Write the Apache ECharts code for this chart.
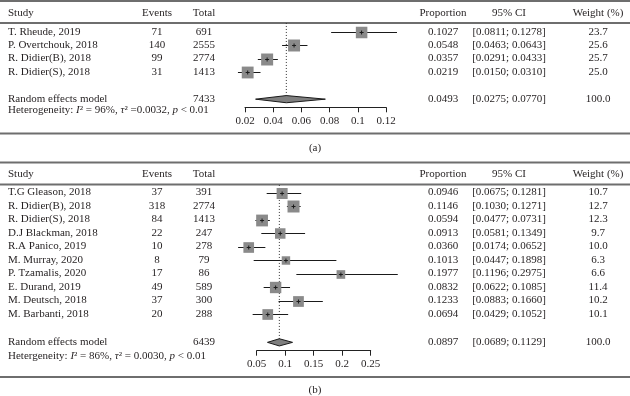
<!DOCTYPE html>
<html lang="en" style="height: 100%">
<head>
<meta charset="utf-8">
<title>Forest plots</title>
</head>
<body style="height: 100%; margin: 0; background: #fff">
<div id="container" style="width: 630px; height: 396px"></div>
<script type="text/javascript" src="https://cdn.jsdelivr.net/npm/echarts/dist/echarts.min.js"></script>
<script type="text/javascript">

// ---- panel (a) data ----
var studiesA = ['T. Rheude, 2019', 'P. Overtchouk, 2018', 'R. Didier(B), 2018', 'R. Didier(S), 2018'];
var eventsA = [71, 140, 99, 31];
var totalsA = [691, 2555, 2774, 1413];
var propA = [0.1027, 0.0548, 0.0357, 0.0219];
var lowerA = [0.0811, 0.0463, 0.0291, 0.0150];
var upperA = [0.1278, 0.0643, 0.0433, 0.0310];
var weightA = [23.7, 25.6, 25.7, 25.0];
var summaryA = [0.0493, 0.0275, 0.0770]; // estimate, lower, upper
var summaryTotalA = 7433;
var hetA = 'Heterogeneity: {i|I}² = 96%, {i|τ}² =0.0032, {i|p} < 0.01';
var ticksA = [0.02, 0.12, 0.02]; // min, max, step

// ---- panel (b) data ----
var studiesB = ['T.G Gleason, 2018', 'R. Didier(B), 2018', 'R. Didier(S), 2018', 'D.J Blackman, 2018',
  'R.A Panico, 2019', 'M. Murray, 2020', 'P. Tzamalis, 2020', 'E. Durand, 2019', 'M. Deutsch, 2018', 'M. Barbanti, 2018'];
var eventsB = [37, 318, 84, 22, 10, 8, 17, 49, 37, 20];
var totalsB = [391, 2774, 1413, 247, 278, 79, 86, 589, 300, 288];
var propB = [0.0946, 0.1146, 0.0594, 0.0913, 0.0360, 0.1013, 0.1977, 0.0832, 0.1233, 0.0694];
var lowerB = [0.0675, 0.1030, 0.0477, 0.0581, 0.0174, 0.0447, 0.1196, 0.0622, 0.0883, 0.0429];
var upperB = [0.1281, 0.1271, 0.0731, 0.1349, 0.0652, 0.1898, 0.2975, 0.1085, 0.1660, 0.1052];
var weightB = [10.7, 12.7, 12.3, 9.7, 10.0, 6.3, 6.6, 11.4, 10.2, 10.1];
var summaryB = [0.0897, 0.0689, 0.1129];
var summaryTotalB = 6439;
var hetB = 'Hetergeneity: {i|I}² = 86%, {i|τ}² = 0.0030, {i|p} < 0.01';
var ticksB = [0.05, 0.25, 0.05];

var headers = ['Study', 'Events', 'Total', 'Proportion', '95% CI', 'Weight (%)'];

// ---- layout ----
var FONT = '"Liberation Serif", "DejaVu Serif", serif';
var TXT = '#231f20';
var colX = [8, 157, 204, 443, 509, 598];
var colAlign = ['left', 'center', 'center', 'center', 'center', 'center'];
var panels = [
  {y0: 32, step: 13.3, axisY: 107.3, left: 245, width: 141, headRow: -1.43, sumRow: 5.05, hetRow: 5.9, dotTop: -0.68,
   studies: studiesA, events: eventsA, totals: totalsA, prop: propA, lo: lowerA, hi: upperA, w: weightA,
   summary: summaryA, sumTotal: summaryTotalA, het: hetA, ticks: ticksA},
  {y0: 192.5, step: 13.5, axisY: 350.7, left: 256.7, width: 114, headRow: -1.37, sumRow: 11.1, hetRow: 12.1, dotTop: -0.56,
   studies: studiesB, events: eventsB, totals: totalsB, prop: propB, lo: lowerB, hi: upperB, w: weightB,
   summary: summaryB, sumTotal: summaryTotalB, het: hetB, ticks: ticksB}
];
var MINROW = -2;

function fmt4(v) { return v.toFixed(4); }

var grids = [], xAxes = [], yAxes = [], series = [];

panels.forEach(function (P, k) {
  var top = P.y0 + MINROW * P.step;
  grids.push({left: P.left, width: P.width, top: top, height: P.axisY - top});
  xAxes.push({
    type: 'value', gridIndex: k, position: 'bottom', min: P.ticks[0], max: P.ticks[1], interval: P.ticks[2],
    axisLine: {onZero: false, lineStyle: {color: '#222', width: 1}},
    axisTick: {inside: false, length: 5, lineStyle: {color: '#222'}},
    axisLabel: {margin: 8, fontFamily: FONT, fontSize: 11, color: TXT},
    splitLine: {show: false}
  });
  yAxes.push({type: 'value', gridIndex: k, inverse: true, min: MINROW, max: (P.axisY - P.y0) / P.step, show: false});

  // table cells
  var cells = [];
  headers.forEach(function (h, c) { cells.push({row: P.headRow, col: c, text: h}); });
  P.studies.forEach(function (s, i) {
    var vals = [s, String(P.events[i]), String(P.totals[i]), fmt4(P.prop[i]),
      '[' + fmt4(P.lo[i]) + '; ' + fmt4(P.hi[i]) + ']', P.w[i].toFixed(1)];
    vals.forEach(function (t, c) { cells.push({row: i, col: c, text: t}); });
  });
  var sumVals = ['Random effects model', '', String(P.sumTotal), fmt4(P.summary[0]),
    '[' + fmt4(P.summary[1]) + '; ' + fmt4(P.summary[2]) + ']', '100.0'];
  sumVals.forEach(function (t, c) { if (t) cells.push({row: P.sumRow, col: c, text: t}); });
  cells.push({row: P.hetRow, col: 0, text: P.het});

  series.push({
    type: 'custom', xAxisIndex: k, yAxisIndex: k, clip: false, silent: true,
    data: cells.map(function (c) { return [P.ticks[0], c.row]; }),
    renderItem: function (params, api) {
      var c = cells[params.dataIndex];
      var y = api.coord([api.value(0), api.value(1)])[1];
      return {
        type: 'text', x: colX[c.col], y: y,
        style: {
          text: c.text, fill: TXT, fontFamily: FONT, fontSize: 11,
          align: colAlign[c.col], verticalAlign: 'middle',
          rich: {i: {fontStyle: 'italic', fontFamily: FONT, fontSize: 11, fill: TXT}}
        }
      };
    }
  });

  // dotted reference line at pooled estimate
  series.push({
    type: 'custom', xAxisIndex: k, yAxisIndex: k, clip: false, silent: true,
    data: [[P.summary[0], P.dotTop, P.sumRow]],
    renderItem: function (params, api) {
      var a = api.coord([api.value(0), api.value(1)]);
      var b = api.coord([api.value(0), api.value(2)]);
      return {type: 'line', shape: {x1: a[0], y1: a[1], x2: b[0], y2: b[1]},
        style: {stroke: '#333', lineWidth: 1, lineDash: [1, 2]}};
    }
  });

  // study estimates
  var wmax = Math.max.apply(null, P.w);
  series.push({
    type: 'custom', xAxisIndex: k, yAxisIndex: k, clip: false, silent: true,
    data: P.prop.map(function (p, i) { return [p, i, P.lo[i], P.hi[i], P.w[i]]; }),
    renderItem: function (params, api) {
      var row = api.value(1);
      var c = api.coord([api.value(0), row]);
      var l = api.coord([api.value(2), row]);
      var h = api.coord([api.value(3), row]);
      var s = 12 * Math.sqrt(api.value(4) / wmax);
      var y = Math.round(c[1]) + 0.5;
      return {type: 'group', children: [
        {type: 'line', shape: {x1: l[0], y1: y, x2: h[0], y2: y}, style: {stroke: '#1a1a1a', lineWidth: 1}},
        {type: 'rect', shape: {x: c[0] - s / 2, y: y - s / 2, width: s, height: s}, style: {fill: '#8a8a8a'}},
        {type: 'line', shape: {x1: c[0] - 2, y1: y, x2: c[0] + 2, y2: y}, style: {stroke: '#1a1a1a', lineWidth: 1}},
        {type: 'line', shape: {x1: c[0], y1: y - 2, x2: c[0], y2: y + 2}, style: {stroke: '#1a1a1a', lineWidth: 1}}
      ]};
    }
  });

  // pooled diamond
  series.push({
    type: 'custom', xAxisIndex: k, yAxisIndex: k, clip: false, silent: true,
    data: [[P.summary[0], P.sumRow, P.summary[1], P.summary[2]]],
    renderItem: function (params, api) {
      var row = api.value(1);
      var c = api.coord([api.value(0), row]);
      var l = api.coord([api.value(2), row]);
      var h = api.coord([api.value(3), row]);
      var hh = 3.6;
      return {type: 'polygon', shape: {points: [[l[0], c[1]], [c[0], c[1] - hh], [h[0], c[1]], [c[0], c[1] + hh]]},
        style: {fill: '#7f7f7f', stroke: '#1a1a1a', lineWidth: 1}};
    }
  });
});

// horizontal rules and panel captions
var rules = [1, 23, 133.5, 162.5, 184.5, 377];
var graphics = rules.map(function (y) {
  return {type: 'line', shape: {x1: 0, y1: y, x2: 630, y2: y}, style: {stroke: '#6e6e6e', lineWidth: 2}};
});
[['(a)', 148], ['(b)', 390]].forEach(function (c) {
  graphics.push({type: 'text', x: 315, y: c[1],
    style: {text: c[0], fill: TXT, fontFamily: FONT, fontSize: 11, align: 'center', verticalAlign: 'middle'}});
});

var myChart = echarts.init(document.getElementById('container'));
var option = {
  animation: false,
  backgroundColor: '#fff',
  grid: grids,
  xAxis: xAxes,
  yAxis: yAxes,
  series: series,
  graphic: graphics
};
myChart.setOption(option);
window.addEventListener('resize', myChart.resize);
</script>
</body>
</html>
